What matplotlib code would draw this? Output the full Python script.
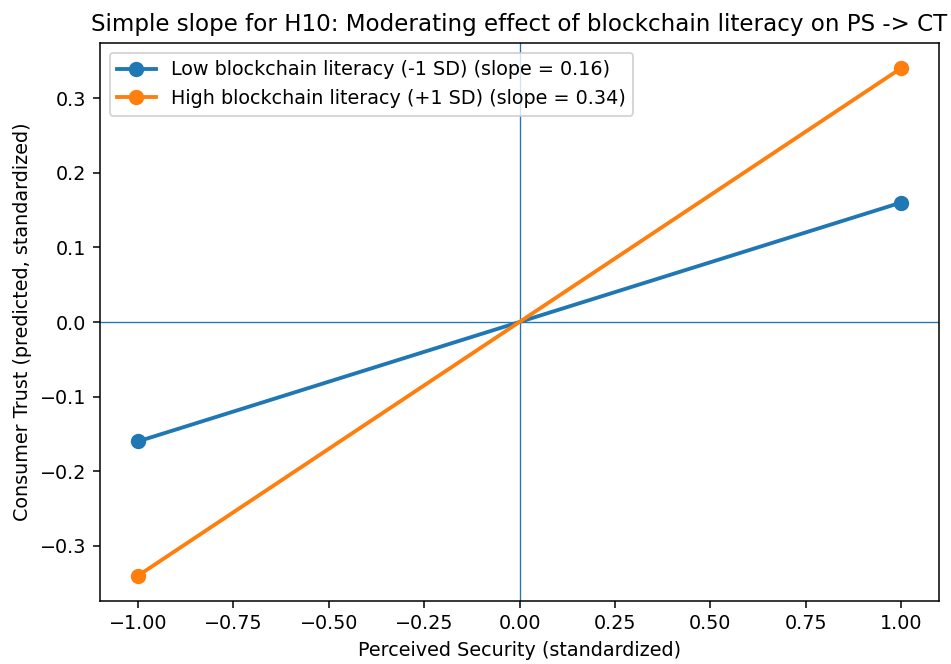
import matplotlib
matplotlib.use("Agg")
import matplotlib.pyplot as plt

x_vals = [-1.0, 1.0]
low_vals = [-0.16, 0.16]
high_vals = [-0.34, 0.34]
low_label = "Low blockchain literacy (-1 SD) (slope = 0.16)"
high_label = "High blockchain literacy (+1 SD) (slope = 0.34)"

DPI = 138
fig = plt.figure(figsize=(951/DPI, 664/DPI), dpi=DPI)
ax = fig.add_axes([100/951, 1-601/664, (939-100)/951, (601-43)/664])
ax.axhline(0, linewidth=0.7)
ax.axvline(0, linewidth=0.7)
ax.plot(x_vals, low_vals, marker='o', linewidth=2, markersize=7, label=low_label, color='C0')
ax.plot(x_vals, high_vals, marker='o', linewidth=2, markersize=7, label=high_label, color='C1')
ax.set_xlabel("Perceived Security (standardized)")
ax.set_ylabel("Consumer Trust (predicted, standardized)")
ax.set_title("Simple slope for H10: Moderating effect of blockchain literacy on PS -> CT")
ax.legend(loc='upper left')
fig.savefig("out.png", dpi=DPI)
